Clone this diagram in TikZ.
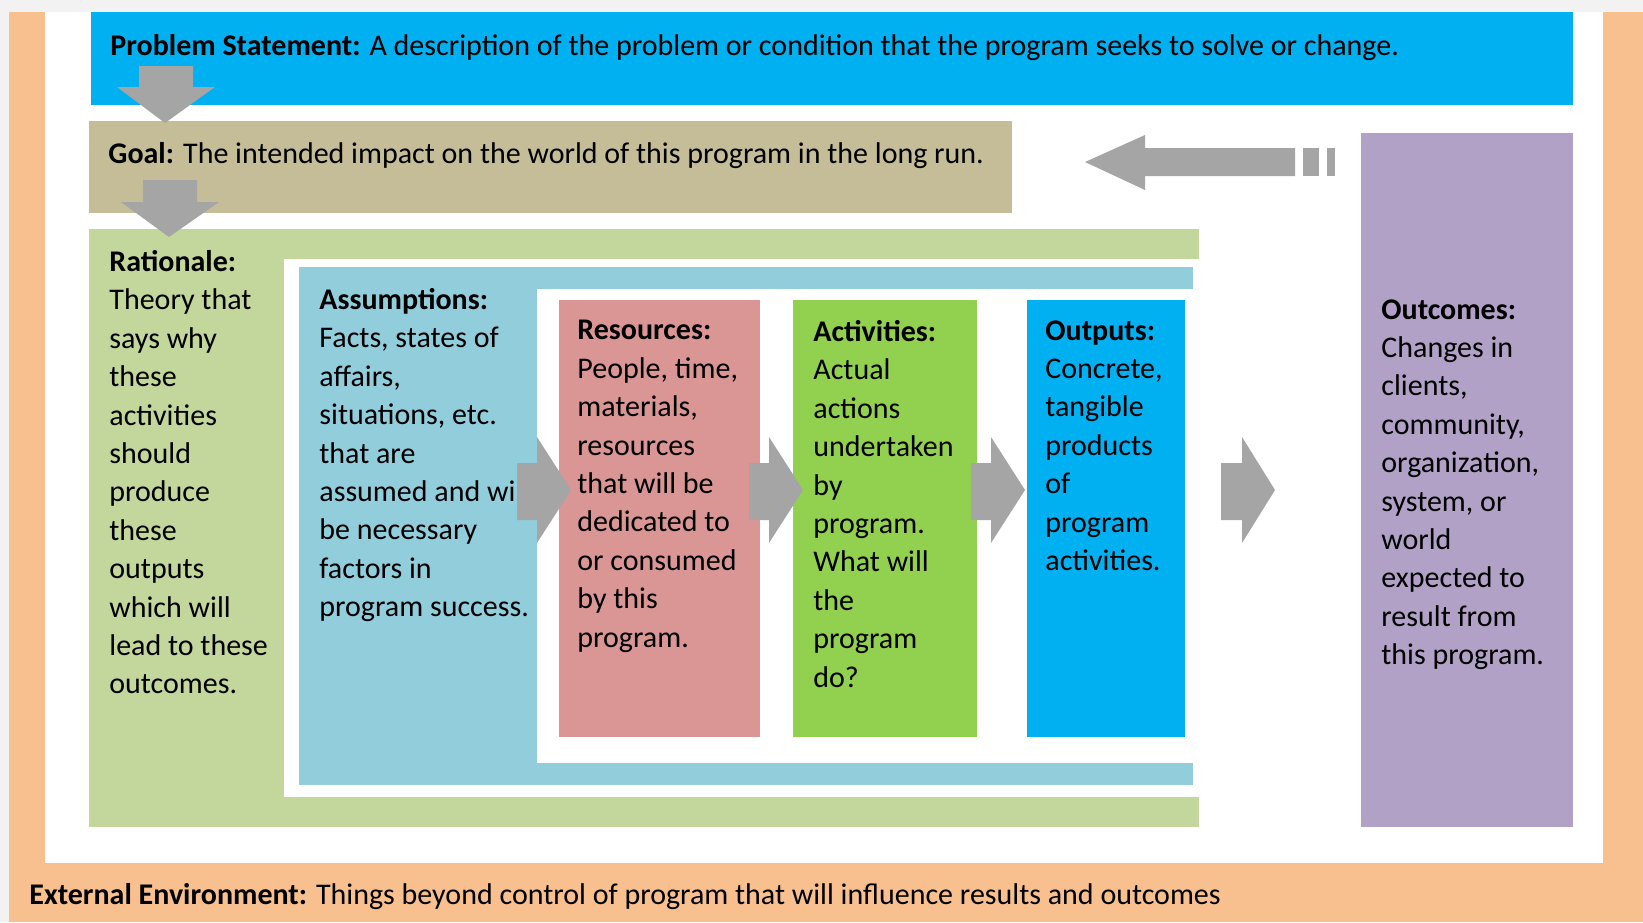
\documentclass[tikz,border=0pt]{standalone}
\usepackage{fontspec}
\setmainfont{Carlito}
\usepackage{tikz}
\definecolor{envorange}{RGB}{248,191,143}
\definecolor{probblue}{RGB}{0,176,240}
\definecolor{goaltan}{RGB}{196,189,151}
\definecolor{ratgreen}{RGB}{195,214,155}
\definecolor{assblue}{RGB}{146,205,220}
\definecolor{respink}{RGB}{217,150,148}
\definecolor{actgreen}{RGB}{146,208,80}
\definecolor{outpurple}{RGB}{178,161,199}
\definecolor{arrgray}{RGB}{165,165,165}
\definecolor{pagegray}{RGB}{242,242,242}
\tikzset{
  txt/.style={anchor=north west, align=left, inner sep=0pt,
    font=\fontsize{15}{19.2}\selectfont, execute at begin node=\strut},
  blockarrow/.style={fill=arrgray, draw=none}
}

\begin{document}
\begin{tikzpicture}[x=0.5pt,y=0.5pt,yscale=-1,xscale=1]
\useasboundingbox (0,0) rectangle (1643,922);
%Shape: page and external environment
\fill [pagegray] (0,0) rectangle (1643,922);
\fill [envorange] (9,12) rectangle (1643,922);
\fill [white] (45,12) rectangle (1603,863);

%Shape: Problem statement and goal bars
\fill [probblue] (91,12) rectangle (1573,105);
\fill [goaltan] (89,121) rectangle (1012,213);

%Shape: nested frames (rationale, assumptions)
\fill [ratgreen] (89,229) rectangle (1199,827);
\fill [white] (284,259) rectangle (1200,797);
\fill [assblue] (299,267) rectangle (1193,785);
\fill [white] (537,289) rectangle (1194,763);

%Shape: resources, activities, outputs, outcomes
\fill [respink] (559,300) rectangle (760,737);
\fill [actgreen] (793,300) rectangle (977,737);
\fill [probblue] (1027,300) rectangle (1185,737);
\fill [outpurple] (1361,133) rectangle (1573,827);

% Text Node
\node [txt] (problem) at (110,28) {\textbf{Problem Statement:} A description of the problem or condition that the program seeks to solve or change.};
% Text Node
\node [txt] (goal) at (108,136) {\textbf{Goal:} The intended impact on the world of this program in the long run.};
% Text Node
\node [txt] (rationale) at (109,250) {\textbf{Rationale:}\\Theory that\\says why\\these\\activities\\should\\produce\\these\\outputs\\which will\\lead to these\\outcomes.};
% Text Node
\node [txt] (assumptions) at (319,288) {\textbf{Assumptions:}\\Facts, states of\\affairs,\\situations, etc.\\that are\\assumed and wil\\be necessary\\factors in\\program success.};
% Text Node
\node [txt] (resources) at (577,320) {\textbf{Resources:}\\People, time,\\materials,\\resources\\that will be\\dedicated to\\or consumed\\by this\\program.};
% Text Node
\node [txt] (activities) at (813,320) {\textbf{Activities:}\\Actual\\actions\\undertaken\\by\\program.\\What will\\the\\program\\do?};
% Text Node
\node [txt] (outputs) at (1045,320) {\textbf{Outputs:}\\Concrete,\\tangible\\products\\of\\program\\activities.};
% Text Node
\node [txt] (outcomes) at (1381,299) {\textbf{Outcomes:}\\Changes in\\clients,\\community,\\organization,\\system, or\\world\\expected to\\result from\\this program.};
% Text Node
\node [txt] (environment) at (29,877) {\textbf{External Environment:} Things beyond control of program that will influence results and outcomes};

%Shape: down arrows
\fill [blockarrow] (139,66) -- (193,66) -- (193,87) -- (215,87) -- (165,123) -- (117,87) -- (139,87) -- cycle;
\fill [blockarrow] (143,180) -- (197,180) -- (197,202) -- (219,202) -- (169,237) -- (121,202) -- (143,202) -- cycle;

%Shape: feedback arrow with dashes
\fill [blockarrow] (1295,148) -- (1145,148) -- (1145,135) -- (1085,162) -- (1145,190) -- (1145,176) -- (1295,176) -- cycle;
\fill [blockarrow] (1303,148) rectangle (1319,176);
\fill [blockarrow] (1327,148) rectangle (1335,176);

%Shape: right arrows
\foreach \xs/\xb/\xt in {517/537/571, 749/769/803, 971/991/1025, 1221/1242/1275}{
  \fill [blockarrow] (\xs,463) -- (\xb,463) -- (\xb,437) -- (\xt,490) -- (\xb,543) -- (\xb,520) -- (\xs,520) -- cycle;
}
\end{tikzpicture}
\end{document}
